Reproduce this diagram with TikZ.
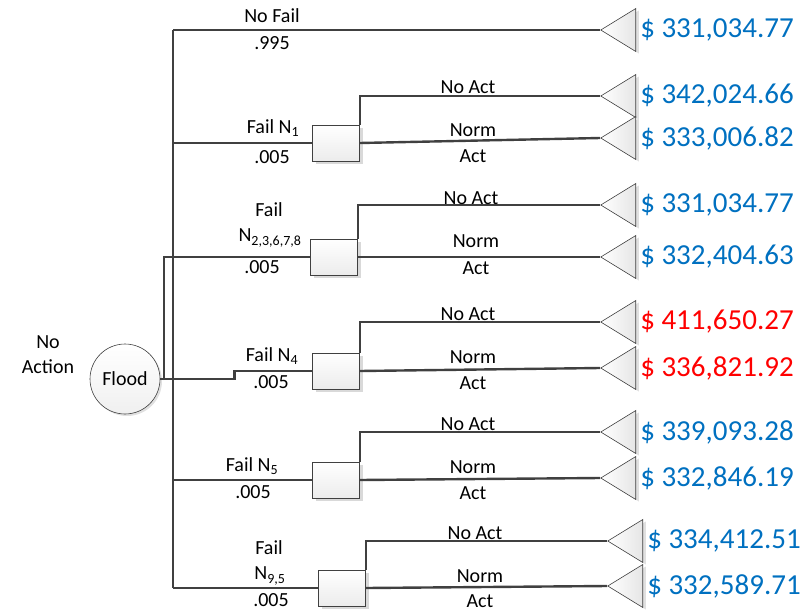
\documentclass[tikz,border=0pt]{standalone}
\usepackage{fontspec}
\setmainfont{Carlito}
\usetikzlibrary{positioning}
\usetikzlibrary{shapes.geometric}
\usetikzlibrary{shadows}

\definecolor{vblue}{RGB}{0,112,192}
\definecolor{vred}{RGB}{255,0,0}
\definecolor{ln}{RGB}{64,64,64}

\tikzset{
    tree/.style={ln, line width=2.4pt},
    chance/.style={circle, draw=ln, line width=0.6pt, minimum size=70pt, inner sep=0pt,
        top color=white, bottom color=gray!12,
        drop shadow={shadow xshift=2pt, shadow yshift=-2pt, fill=black!12, opacity=1}},
    dec/.style={rectangle, draw=ln, line width=0.7pt, minimum width=47pt, minimum height=36pt,
        inner sep=0pt, top color=white, bottom color=gray!15,
        drop shadow={shadow xshift=3pt, shadow yshift=-3pt, fill=black!15, opacity=1}},
    term/.style={isosceles triangle, shape border rotate=180, isosceles triangle stretches,
        minimum width=43pt, minimum height=35pt, inner sep=0pt, draw=ln, line width=0.6pt,
        left color=white, right color=gray!20,
        drop shadow={shadow xshift=3pt, shadow yshift=-2pt, fill=black!12, opacity=1}},
    lbl/.style={font=\fontsize{20}{22}\selectfont, inner sep=0pt},
    val/.style={font=\fontsize{29}{30}\selectfont, inner sep=0pt, anchor=west},
}

\begin{document}
\begin{tikzpicture}[x=1pt, y=-1pt]
    \useasboundingbox (0,0) rectangle (804,611);

    \draw (125,379) node[chance] (flood) {\fontsize{20}{22}\selectfont Flood};
    \draw (48,355) node[lbl, align=center] (noaction) {No\\[3pt]Action};

    \draw (336,143) node[dec] (d1) {};
    \draw (334,257) node[dec] (d2) {};
    \draw (336,371) node[dec] (d3) {};
    \draw (336,480) node[dec] (d4) {};
    \draw (342,588) node[dec] (d5) {};

    \foreach \name/\x/\y/\val/\col in {t0/600/30/{331,034.77}/vblue,
        t1a/600/96/{342,024.66}/vblue, t1b/600/138/{333,006.82}/vblue,
        t2a/600/205/{331,034.77}/vblue, t2b/600/257/{332,404.63}/vblue,
        t3a/600/322/{411,650.27}/vred, t3b/600/368/{336,821.92}/vred,
        t4a/600/432/{339,093.28}/vblue, t4b/600/478/{332,846.19}/vblue,
        t5a/607/541/{334,412.51}/vblue, t5b/607/586/{332,589.71}/vblue}{
        \draw (\x,\y) node[term, anchor=apex] (\name) {};
        \draw (\name.lower side) node[val, text=\col, xshift=4pt] (v\name) {\$ \val};
    }

    \coordinate (sp0) at (173,30);
    \coordinate (sp1) at (173,143);
    \coordinate (sp4) at (173,480);
    \coordinate (sp5) at (173,588);
    \coordinate (jn) at (164,380);

    \draw[tree] (sp0) -- (sp5);
    \draw[tree] (sp0) -- (t0.apex);
    \draw[tree] (sp1) -- (d1.west);
    \draw[tree] (flood.east) -- ++(74,0) |- (d3.west);
    \draw[tree] (jn) |- (d2.west);
    \draw[tree] (sp4) -- (d4.west);
    \draw[tree] (sp5) -- (d5.west);
    \foreach \d/\a/\b in {d1/t1a/t1b, d2/t2a/t2b, d3/t3a/t3b, d4/t4a/t4b, d5/t5a/t5b}{
        \draw[tree] (\d.north east) |- (\a.apex);
        \draw[tree] (\d.east) -- (\b.apex);
    }

    \draw (272,16) node[lbl] (p0) {No Fail};
    \draw (272,43) node[lbl] (q0) {.995};
    \draw (273,128) node[lbl] (p1) {Fail N\textsubscript{1}};
    \draw (272,157) node[lbl] (q1) {.005};
    \draw (269,210) node[lbl] (p2) {Fail};
    \draw (270,238) node[lbl] (n2) {N\textsubscript{2,3,6,7,8}};
    \draw (262,267) node[lbl] (q2) {.005};
    \draw (272,356) node[lbl] (p3) {Fail N\textsubscript{4}};
    \draw (271,382) node[lbl] (q3) {.005};
    \draw (252,466) node[lbl] (p4) {Fail N\textsubscript{5}};
    \draw (253,492) node[lbl] (q4) {.005};
    \draw (269,548) node[lbl] (p5) {Fail};
    \draw (270,576) node[lbl] (n5) {N\textsubscript{9,5}};
    \draw (271,600) node[lbl] (q5) {.005};

    \foreach \i/\x/\ya/\yb/\yc in {1/468/87/130/156, 2/471/198/241/268,
        3/468/314/357/383, 4/468/424/467/493, 5/475/533/576/601}{
        \draw (\x,\ya) node[lbl] (na\i) {No Act};
        \draw (\x+5,\yb) node[lbl] (nm\i) {Norm};
        \draw (\x+5,\yc) node[lbl] (ac\i) {Act};
    }
\end{tikzpicture}
\end{document}
